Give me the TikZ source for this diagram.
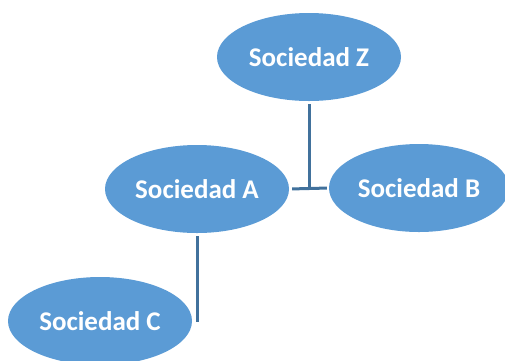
\documentclass[tikz,border=0pt]{standalone}
\usepackage{fontspec}
\setmainfont{Carlito}
\usetikzlibrary{shapes.geometric}
\definecolor{socblue}{HTML}{5B9BD5}
\definecolor{linkblue}{HTML}{41719C}

\begin{document}
\begin{tikzpicture}[x=1pt,y=-1pt,
    soc/.style={ellipse,fill=socblue,text=white,inner sep=0pt,
      minimum width=184pt,minimum height=88pt,
      font=\fontsize{27}{31}\selectfont\bfseries},
    link/.style={draw=linkblue,line width=3pt,shorten <=3pt}]

            \useasboundingbox (0,0) rectangle (505,360);

            \node[soc] (sz) at (309,57) {Sociedad Z};

            \node[soc] (sa) at (197,189) {Sociedad A};

            \node[soc,minimum width=180pt] (sb) at (419,188) {Sociedad B};

            \node[soc] (sc) at (100,321) {Sociedad C};

            \coordinate (jz) at (309,188);

            \coordinate (jc) at (197,322);

            

            \draw[link,shorten >=2pt] (sa.east) -- (sb.west);

            \draw[link] (sz.south) -- (jz);

            \draw[link] (sa.south) -- (jc);

        \end{tikzpicture}
\end{document}
